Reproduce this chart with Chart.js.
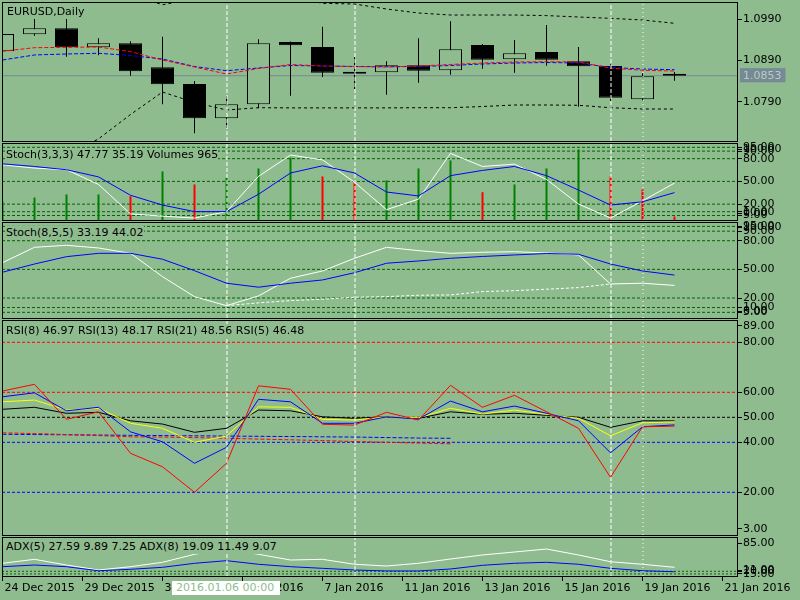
<!DOCTYPE html>
<html>
<head>
<meta charset="utf-8">
<script src="https://cdn.jsdelivr.net/npm/chart.js@4.4.1/dist/chart.umd.min.js"></script>
<style>
  body { margin: 0; background: #8fbc8f; }
  #wrap { position: relative; width: 800px; height: 600px; overflow: hidden; font-family: "DejaVu Sans", sans-serif; font-size: 11px; }
  #wrap canvas { position: absolute; left: 0; top: 0; }
  .lbl { position: absolute; left: 6px; color: #000; white-space: nowrap; line-height: 14px; background: #8fbc8f; }
  #cross { position: absolute; left: 172px; top: 581px; width: 108px; height: 14px; background: #fff; color: #8fbc8f; line-height: 14px; padding-left: 4px; box-sizing: border-box; white-space: nowrap; }
</style>
</head>
<body>
<div id="wrap">
  <canvas id="pMain" width="800" height="600"></canvas>
  <canvas id="pSto1" width="800" height="600"></canvas>
  <canvas id="pSto2" width="800" height="600"></canvas>
  <canvas id="pRsi" width="800" height="600"></canvas>
  <canvas id="pAdx" width="800" height="600"></canvas>
  <div class="lbl" style="left:7px;top:5px">EURUSD,Daily</div>
  <div class="lbl" style="top:148px">Stoch(3,3,3) 47.77 35.19 Volumes 965</div>
  <div class="lbl" style="top:226px">Stoch(8,5,5) 33.19 44.02</div>
  <div class="lbl" style="top:324px">RSI(8) 46.97 RSI(13) 48.17 RSI(21) 48.56 RSI(5) 46.48</div>
  <div class="lbl" style="top:540px">ADX(5) 27.59 9.89 7.25 ADX(8) 19.09 11.49 9.07</div>
  <div id="cross">2016.01.06 00:00</div>
</div>
<script>
// time axis
const dateLabels = ["24 Dec 2015", "29 Dec 2015", "31 Dec 2015", "5 Jan 2016", "7 Jan 2016",
                    "11 Jan 2016", "13 Jan 2016", "15 Jan 2016", "19 Jan 2016", "21 Jan 2016"];
const dateTickPos = [0, 2.5, 5, 7.5, 10, 12.5, 15, 17.5, 20, 22.5];
const dashBars = [7, 11, 19];
const dotBars = [20];

// EURUSD daily
const opens  = [1.09123, 1.09536, 1.09682, 1.09220, 1.09317, 1.08735, 1.08330, 1.07497, 1.07837, 1.09349, 1.09228,
                1.08628, 1.08614, 1.08783, 1.08662, 1.09276, 1.08929, 1.09106, 1.08880, 1.08767, 1.07958, 1.08540];
const highs  = [1.09580, 1.09924, 1.09924, 1.09439, 1.09366, 1.09478, 1.08402, 1.08030, 1.09415, 1.09360, 1.09720,
                1.08978, 1.08880, 1.09439, 1.09851, 1.09300, 1.09398, 1.09762, 1.09228, 1.08808, 1.08589, 1.08621];
const lows   = [1.09050, 1.09502, 1.08992, 1.09026, 1.08531, 1.07837, 1.07133, 1.07262, 1.07740, 1.08046, 1.08500,
                1.08208, 1.08070, 1.08361, 1.08555, 1.08701, 1.08604, 1.08774, 1.07779, 1.07917, 1.07917, 1.08410];
const closes = [1.09543, 1.09682, 1.09220, 1.09317, 1.08638, 1.08322, 1.07497, 1.07837, 1.09317, 1.09269, 1.08604,
                1.08580, 1.08783, 1.08652, 1.09172, 1.08919, 1.09075, 1.08919, 1.08759, 1.07997, 1.08517, 1.08530];
const maRed  = [1.09125, 1.09211, 1.09220, 1.09228, 1.09115, 1.08912, 1.08742, 1.08572, 1.08706, 1.08803, 1.08767,
                1.08754, 1.08742, 1.08767, 1.08803, 1.08839, 1.08864, 1.08871, 1.08864, 1.08716, 1.08662, 1.08645];
const maBlue = [1.08912, 1.09034, 1.09058, 1.09075, 1.09021, 1.08936, 1.08754, 1.08652, 1.08718, 1.08779, 1.08767,
                1.08754, 1.08750, 1.08754, 1.08779, 1.08815, 1.08839, 1.08851, 1.08839, 1.08730, 1.08694, 1.08677];
const bandUp = [1.10450, 1.10450, 1.10420, 1.10400, 1.10500, 1.10254, 1.10400, 1.10450, 1.10450, 1.10450, 1.10288,
                1.10271, 1.10150, 1.10053, 1.10004, 1.10004, 1.10004, 1.09990, 1.09956, 1.09924, 1.09883, 1.09803];
const bandDn = [1.06400, 1.06500, 1.06600, 1.06997, 1.07589, 1.08135, 1.07881, 1.07699, 1.07754, 1.07750, 1.07750,
                1.07750, 1.07750, 1.07754, 1.07754, 1.07783, 1.07820, 1.07820, 1.07813, 1.07754, 1.07723, 1.07723];
const priceTicks = [1.0790, 1.0890, 1.0990];
const lastPrice = 1.0853;

// Stoch(3,3,3) + Volumes
const volumes = [5200, 6200, 7040, 7040, 6570, 13390, 9800, 11650, 14210, 17170, 12010,
                 10270, 10900, 14210, 16420, 7670, 9800, 14210, 19460, 12010, 8420, 965];
const sto1Main = [71.9, 67.6, 65.4, 46.0, 7.1, 4.1, 1.6, 10.1, 56.7, 84.8, 78.4,
                  49.0, 12.7, 26.6, 87.0, 69.7, 72.8, 52.5, 20.1, 1.6, 24.4, 47.77];
const sto1Sig  = [73.2, 69.7, 65.4, 56.0, 31.7, 18.8, 10.1, 10.1, 33.0, 61.1, 70.6,
                  61.1, 36.0, 30.8, 57.6, 64.5, 69.7, 57.6, 38.6, 18.8, 23.1, 35.19];
// Stoch(8,5,5)
const sto2Main = [57.0, 73.1, 75.2, 72.4, 66.8, 42.4, 21.4, 12.0, 22.2, 40.7, 48.3,
                  61.6, 73.1, 69.6, 66.8, 67.9, 68.5, 67.2, 65.1, 34.7, 35.5, 33.19];
const sto2Sig  = [47.0, 55.6, 63.3, 66.8, 66.8, 60.6, 48.6, 35.5, 31.3, 35.5, 38.9,
                  46.5, 56.4, 58.8, 61.6, 63.5, 65.1, 66.6, 65.8, 55.6, 48.3, 44.02];
const sto2Trail = [null, null, null, null, null, null, null, 12.0, 14.9, 17.3, 18.7,
                   20.8, 21.4, 22.9, 23.2, 26.7, 27.7, 29.2, 30.9, 34.7, null, null];
const stoLevels = [95, 90, 80, 50, 20, 10, 5];
const stoTicks = [0, 5, 10, 20, 50, 80, 90, 95, 100];

// RSI
const rsi5  = [60.5, 63.2, 49.2, 52.2, 35.6, 30.2, 20.0, 31.6, 62.6, 61.2, 47.2,
               46.9, 52.0, 48.9, 62.8, 54.0, 58.8, 52.2, 45.6, 26.0, 46.2, 46.48];
const rsi8  = [58.2, 59.8, 52.6, 54.0, 44.2, 40.2, 31.6, 38.0, 57.2, 56.2, 47.6,
               47.6, 50.2, 49.3, 56.5, 52.2, 54.5, 51.6, 48.6, 35.8, 46.2, 46.97];
const rsi13 = [56.2, 56.9, 52.9, 53.6, 47.6, 45.6, 40.0, 42.5, 54.2, 54.0, 49.2,
               48.9, 50.2, 49.8, 53.6, 51.3, 52.9, 51.2, 49.6, 42.6, 47.8, 48.17];
const rsi21 = [53.2, 54.0, 51.6, 52.0, 48.6, 47.3, 44.0, 45.6, 52.9, 52.6, 50.2,
               49.6, 50.2, 49.6, 52.2, 51.2, 51.6, 50.8, 50.0, 46.0, 48.6, 48.56];
const rsiSlowRed  = [43.8, 43.5, 43.1, 42.7, 42.2, 42.1, 41.9, 41.6, 41.3, 41.0, 40.7,
                     40.3, 40.0, 39.7, 39.4, null, null, null, null, null, null, null];
const rsiSlowBlue = [43.2, 43.1, 43.0, 42.9, 42.8, 42.7, 42.6, 42.5, 42.4, 42.3, 42.2,
                     42.1, 41.9, 41.7, 41.6, null, null, null, null, null, null, null];
const rsiLevels = [80, 60, 50, 40, 20];
const rsiTicks = [3, 20, 40, 50, 60, 80, 89];

// ADX
const adx5 = [35.3, 42.9, 32.0, 22.5, 28.8, 37.2, 52.5, 62.6, 52.5, 41.6, 42.9,
              33.4, 30.1, 35.3, 43.5, 51.2, 56.9, 62.6, 51.2, 38.3, 33.4, 27.59];
const adx8 = [28.8, 32.0, 28.8, 21.1, 23.8, 27.6, 35.3, 40.3, 33.4, 28.8, 25.7,
              22.5, 20.6, 20.6, 24.4, 31.5, 35.3, 37.2, 33.4, 25.7, 21.1, 19.09];
const adxLevels = [20, 15];
const adxTicks = [11, 15, 20, 85];

// ---- drawing ----
const BG = "#8fbc8f";
const LVL = "#006400";
const X_MIN = -0.0156, X_MAX = 22.953;   // 32px per bar between x=2 and x=737
const font = { family: "DejaVu Sans", size: 11 };
Chart.defaults.font.family = "DejaVu Sans";

const pts = arr => arr.map((v, i) => ({ x: i, y: v }));

const line = (arr, color, order, dash) => ({
    type: "line", data: pts(arr), borderColor: color, borderWidth: 1, borderDash: dash || [],
    pointRadius: 0, tension: 0, fill: false, order: order
});

const hLine = (v, color, dash, order) => ({
    type: "line", data: [{ x: X_MIN, y: v }, { x: X_MAX, y: v }], borderColor: color, borderWidth: 1,
    borderDash: dash || [], pointRadius: 0, order: order === undefined ? 50 : order
});

const vLines = p => dashBars.map(b => [b, [4, 2]]).concat(dotBars.map(b => [b, [1, 3]])).map(([b, dash]) => ({
    type: "line", data: [{ x: b + 0.0156, y: p.min }, { x: b + 0.0156, y: p.max }], borderColor: "#fff",
    borderWidth: 1, borderDash: dash, pointRadius: 0, order: 0
}));

const paneFrame = {
    id: "paneFrame",
    afterDraw(chart) {
        const { ctx, chartArea: a } = chart;
        ctx.save();
        ctx.strokeStyle = "#000";
        ctx.lineWidth = 1;
        ctx.strokeRect(Math.round(a.left) + 0.5, Math.round(a.top) + 0.5,
                       Math.round(a.right - a.left), Math.round(a.bottom - a.top));
        ctx.restore();
    }
};

let makePane = (id, p, datasets, extraScales) => {
    const per = (p.max - p.min) / (p.bottom - p.top);
    const labels = p.ticks.map(v => v.toFixed(p.digits));
    const last = p.ticks.length - 1;
    const isSpecial = c => p.special !== undefined && c.tick && c.tick.raw === p.special;
    const scales = {
        x: {
            type: "linear", min: X_MIN, max: X_MAX, offset: false, display: !!p.showX,
            afterBuildTicks: s => { s.ticks = dateTickPos.map(v => ({ value: v })); },
            afterFit: s => { s.height = p.showX ? 24 : 0; s.paddingLeft = 0; s.paddingRight = 0; },
            grid: { offset: false, drawOnChartArea: false, drawTicks: true, tickLength: 5, color: "#000" },
            border: { display: false },
            ticks: { autoSkip: false, maxRotation: 0, align: "start", labelOffset: 2, padding: 1, color: "#000", font,
                     callback: (v, i) => dateLabels[i] }
        },
        y: {
            type: "linear", position: "right", min: p.min, max: p.max, bounds: "data", beginAtZero: false,
            afterBuildTicks: s => {
                s.ticks = p.ticks.map((v, i) => {
                    if (p.edge && i === 0) v += 6 * per;
                    if (p.edge && i === last) v -= 6 * per;
                    return { value: v, raw: p.ticks[i] };
                });
            },
            afterFit: s => { s.width = 63; s.paddingTop = 0; s.paddingBottom = 0; },
            grid: { drawOnChartArea: false, drawTicks: true, tickLength: 5, color: "#000",
                    tickColor: c => isSpecial(c) ? "rgba(0,0,0,0)" : "#000" },
            border: { display: false },
            ticks: {
                autoSkip: false, padding: 1, font,
                color: c => isSpecial(c) ? "#b4d2b4" : "#000",
                showLabelBackdrop: c => isSpecial(c),
                backdropColor: "#778899",
                backdropPadding: { left: 3, right: 4, top: 1, bottom: 0 },
                callback: (v, i) => labels[i]
            }
        }
    };
    Object.assign(scales, extraScales || {});
    return new Chart(id, {
        data: { datasets: datasets },
        options: {
            responsive: false, devicePixelRatio: 1, animation: false, events: [],
            layout: { autoPadding: false, padding: { left: 2, right: 0, top: p.top, bottom: p.showX ? 0 : 600 - p.bottom } },
            plugins: { legend: { display: false }, tooltip: { enabled: false } },
            scales: scales
        },
        plugins: [paneFrame]
    });
};

// main pane
const mainP = { top: 2, bottom: 141, min: 1.06946, max: 1.10320, digits: 4,
                ticks: priceTicks.concat([lastPrice]).sort((a, b) => a - b), special: lastPrice };
makePane("pMain", mainP, [
    ...vLines(mainP),
    line(maRed, "#ff0000", 1, [4, 2]),
    line(maBlue, "#0000ff", 1, [4, 2]),
    line(bandUp, "#000", 2, [3, 3]),
    line(bandDn, "#000", 2, [3, 3]),
    {
        type: "bar", data: opens.map((o, i) => ({ x: i, y: [o, closes[i]] })),
        backgroundColor: opens.map((o, i) => closes[i] >= o ? BG : "#000"),
        borderColor: "#000", borderWidth: 1, borderSkipped: false, barThickness: 23,
        minBarLength: 2, grouped: false, inflateAmount: 0, order: 10
    },
    {
        type: "bar", data: lows.map((l, i) => ({ x: i, y: [l, highs[i]] })),
        backgroundColor: "#000", borderWidth: 0, barThickness: 1, grouped: false, inflateAmount: 0, order: 11
    },
    hLine(lastPrice, "#778899", [], 60)
]);

// Stoch(3,3,3) + Volumes
const sto1P = { top: 143, bottom: 220, min: -0.95, max: 100.7, digits: 2, ticks: stoTicks, edge: true };
makePane("pSto1", sto1P, [
    ...vLines(sto1P),
    ...stoLevels.map(v => hLine(v, LVL, [3, 2])),
    {
        type: "bar", yAxisID: "yv", data: pts(volumes),
        backgroundColor: volumes.map((v, i) => (i === 0 || v >= volumes[i - 1]) ? "#008000" : "#ff0000"),
        borderWidth: 0, barThickness: 2, grouped: false, inflateAmount: 0, order: 40
    },
    line(sto1Main, "#ffffff", 3),
    line(sto1Sig, "#0000ff", 2)
], { yv: { type: "linear", display: false, min: 0, max: 21230 } });

// Stoch(8,5,5)
const sto2P = { top: 222, bottom: 318, min: -0.94, max: 99.6, digits: 2, ticks: stoTicks, edge: true };
makePane("pSto2", sto2P, [
    ...vLines(sto2P),
    ...stoLevels.map(v => hLine(v, LVL, [3, 2])),
    line(sto2Trail, "#ffffff", 4, [3, 2]),
    line(sto2Main, "#ffffff", 3),
    line(sto2Sig, "#0000ff", 2)
]);

// RSI
const rsiP = { top: 320, bottom: 535, min: 2.92, max: 88.92, digits: 2, ticks: rsiTicks, edge: true };
const rsiLevelColor = { 80: "#ff0000", 60: "#ff0000", 50: "#000000", 40: "#0000ff", 20: "#0000ff" };
makePane("pRsi", rsiP, [
    ...vLines(rsiP),
    ...rsiLevels.map(v => hLine(v, rsiLevelColor[v], [3, 2])),
    line(rsiSlowRed, "#ff0000", 9, [4, 2]),
    line(rsiSlowBlue, "#0000ff", 9, [4, 2]),
    line(rsi21, "#000000", 7),
    line(rsi13, "#ffff00", 6),
    line(rsi8, "#0000ff", 5),
    line(rsi5, "#ff0000", 4)
]);

// ADX
const adxP = { top: 537, bottom: 576, min: 11, max: 85.6, digits: 2, ticks: adxTicks, edge: true, showX: true };
makePane("pAdx", adxP, [
    ...vLines(adxP),
    ...adxLevels.map(v => hLine(v, LVL, [2, 2])),
    line(adx5, "#ffffff", 3),
    line(adx8, "#0000ff", 2)
]);
</script>
</body>
</html>
